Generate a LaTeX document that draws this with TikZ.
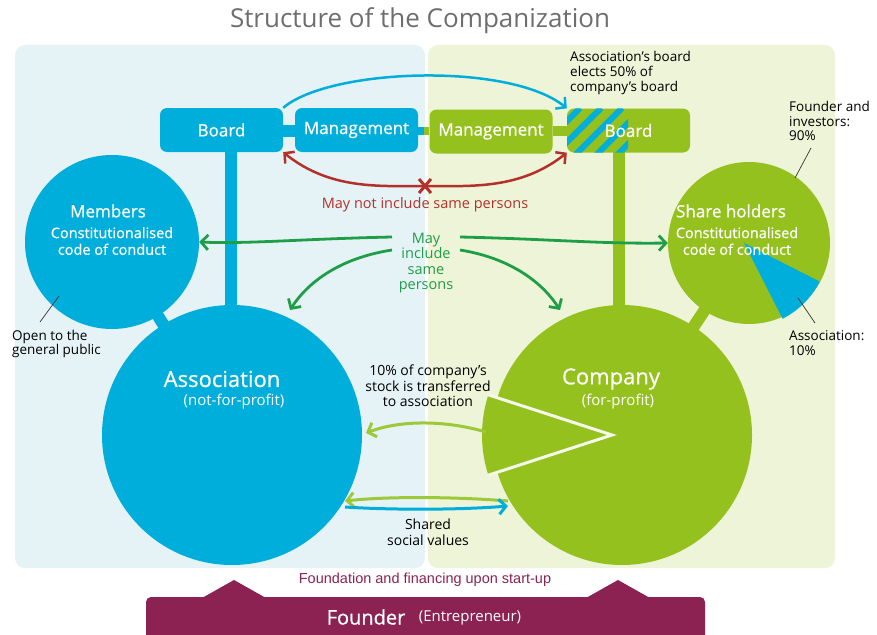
\documentclass[tikz,border=0pt]{standalone}
\usepackage{fontspec}
\setmainfont{Open Sans}
\newfontfamily\wb{Open Sans}[FakeBold=0.7]
\newfontfamily\arialf{Liberation Sans}
\usetikzlibrary{arrows.meta,calc}
\definecolor{cblue}{HTML}{00AEDB}
\definecolor{cgreen}{HTML}{95C11F}
\definecolor{bgblue}{HTML}{E6F3F6}
\definecolor{bggreen}{HTML}{EEF4D8}
\definecolor{cpurple}{HTML}{8B2252}
\definecolor{cred}{HTML}{B3312B}
\definecolor{cdgreen}{HTML}{1E9E47}
\definecolor{ctitle}{HTML}{6E6E6E}
\definecolor{clgreen}{HTML}{9CC83A}
\newcommand{\fs}[1]{\fontsize{#1}{#1}\selectfont}
\tikzset{
  boxnode/.style={rounded corners=7pt, minimum width=123pt, minimum height=44pt, inner sep=0pt, text=white, font=\wb\fs{17}},
  bignode/.style={circle, inner sep=0pt},
  wtext/.style={text=white, align=center, inner sep=0pt},
  annot/.style={text=black, align=left, inner sep=0pt, font=\fs{13.5}\linespread{1.1}\selectfont, anchor=west},
  tip/.style={-{Straight Barb[length=7pt,width=15pt]}},
  tips/.style={{Straight Barb[length=7pt,width=15pt]}-{Straight Barb[length=7pt,width=15pt]}},
  pointer/.style={draw=black!80, line width=0.7pt},
  linkbar/.style={line width=12pt},
}
\begin{document}
\begin{tikzpicture}[x=1pt,y=-1pt]
\useasboundingbox (0,0) rectangle (877,634);
% panels
\fill[bgblue, rounded corners=10pt] (15,45) rectangle (425,568);
\fill[bggreen, rounded corners=10pt] (428,45) rectangle (835,568);
% title
\node[text=ctitle, font=\fs{26}, inner sep=0] (title) at (420,21) {Structure of the Companization};
% coordinates of main circles
\coordinate (cM) at (112,242);
\coordinate (cA) at (232,435);
\coordinate (cC) at (622,435);
\coordinate (cS) at (749,243);
% boxes
\node[boxnode, fill=cblue] (bL) at (221.5,130) {Board};
\node[boxnode, fill=cblue] (mL) at (356.5,130) {Management};
\node[boxnode, fill=cgreen] (mR) at (491,131.5) {Management};
\node[boxnode, fill=cgreen, text opacity=0] (bR) at (628.5,130.5) {Board};
% link bars between boxes
\fill[cblue] (bL.east |- 0,125) rectangle (mL.west |- 0,137);
\fill[cblue] (mL.east |- 0,127) rectangle (424,135);
\fill[cgreen] (424,127) rectangle (mR.west |- 0,135);
\fill[cgreen] (mR.east |- 0,126) rectangle (bR.west |- 0,136);
% stems
\fill[cblue] (225,150) rectangle (237,330);
\fill[cgreen] (613,150) rectangle (625,330);
% circle connectors
\draw[cblue, linkbar] (cM) -- (cA);
\draw[cgreen, linkbar] (cS) -- (cC);
% circles
\node[bignode, fill=cblue, minimum size=174pt] (mem) at (cM) {};
\node[bignode, fill=cblue, minimum size=260pt] (asso) at (cA) {};
\node[bignode, fill=cgreen, minimum size=260pt] (comp) at (cC) {};
\node[bignode, fill=cgreen, minimum size=162pt] (share) at (cS) {};
% shareholder pie slice
\fill[cblue] ($(cS)+(-5,0)$) -- ++(27:85) arc[start angle=27, end angle=63, radius=85] -- cycle;
% company wedge
\coordinate (wT) at ($(cC)+(-10,0)$);
\fill[cgreen] (wT) -- ++(162:130) arc[start angle=162, end angle=198, radius=130] -- cycle;
\draw[white!90!cgreen, line width=3pt, line join=miter] ($(wT)+(162:130)$) -- (wT) -- ($(wT)+(198:130)$);
% stripes on company board
\begin{scope}
\clip[rounded corners=7pt] (bR.south west) rectangle (bR.north east);
\clip (567,100) rectangle (628,160);
\foreach \i in {-60,-39,...,80} {
  \draw[cblue, line width=6pt] (567+\i,160) -- ++(52,-52);
}
\end{scope}
\node[wtext, font=\wb\fs{17}] (bRt) at (bR) {Board};
% circle texts
\node[wtext, font=\wb\fs{17}] (memT) at (108,211) {Members};
\node[wtext, font=\wb\fs{14.5}\linespread{1.15}\selectfont] (memC) at (112,241) {Constitutionalised\\code of conduct};
\node[wtext, font=\wb\fs{17}] (shT) at (731,211) {Share holders};
\node[wtext, font=\wb\fs{14.5}\linespread{1.15}\selectfont] (shC) at (737,241) {Constitutionalised\\code of conduct};
\node[wtext, font=\wb\fs{22}] (asT) at (222,379) {Association};
\node[wtext, font=\fs{15}] (asS) at (234,402) {(not-for-profit)};
\node[wtext, font=\wb\fs{22}] (coT) at (611,379) {Company};
\node[wtext, font=\fs{15}] (coS) at (618,402) {(for-profit)};
% annotations
\node[annot] (open) at (12,344) {Open to the\\general public};
\draw[pointer] (40,322) -- (59,296);
\node[annot] (fi) at (789,121) {Founder and\\investors:\\90\%};
\draw[pointer] (811,148) -- (795,178);
\node[annot] (as10) at (789,343) {Association:\\10\%};
\draw[pointer] (815,323) -- (798,298);
\node[annot] (elect) at (570,73) {Association’s board\\elects 50\% of\\company’s board};
% blue arc board -> board
\draw[cblue, line width=2.5pt, tip] (bL.north east) .. controls (330,68) and (510,62) .. (bR.north west);
% red double arrow
\coordinate (xm) at (425,186);
\draw[cred, line width=2.5pt, tips] (bL.south east) .. controls (330,190) and (380,186) .. (xm) .. controls (470,186) and (520,190) .. (bR.south west);
\draw[cred, line width=3pt] ($(xm)+(-6,-7)$) -- ($(xm)+(6,7)$) ($(xm)+(6,-7)$) -- ($(xm)+(-6,7)$);
\node[text=cred, font=\fs{14.5}, inner sep=0] (notsame) at (425,205) {May not include same persons};
% green may include
\node[text=cdgreen, font=\fs{14.5}\linespread{1.07}\selectfont, align=center, inner sep=0] (same) at (426,263) {May\\include\\same\\persons};
\coordinate (g1) at (392,237);
\coordinate (g2) at (392,250);
\coordinate (g3) at (460,237);
\coordinate (g4) at (460,250);
\draw[cdgreen, line width=2.8pt, tip] (g1) .. controls (300,239) and (250,244) .. (mem.east);
\draw[cdgreen, line width=2.8pt, tip] (g2) .. controls (340,258) and (308,282) .. (290,310);
\draw[cdgreen, line width=2.8pt, tip] (g3) .. controls (550,239) and (600,244) .. (share.west);
\draw[cdgreen, line width=2.8pt, tip] (g4) .. controls (510,258) and (542,282) .. (560,310);
% stock transfer
\node[font=\fs{14}\linespread{1.12}\selectfont, align=center, inner sep=0] (stock) at (428,386) {10\% of company’s\\stock is transferred\\to association};
\coordinate (st1) at (486,432);
\coordinate (st2) at (366,433);
\draw[clgreen, line width=3pt, tip] (st1) .. controls (445,420) and (400,420) .. (st2);
% shared social values
\coordinate (sv1) at (508,501);
\coordinate (sv2) at (345,501);
\draw[clgreen, line width=3pt, tip] (sv1) .. controls (460,497) and (390,496) .. (sv2);
\coordinate (sb1) at (345,507);
\coordinate (sb2) at (508,506);
\draw[cblue, line width=3pt, tip] (sb1) .. controls (390,510) and (460,510) .. (sb2);
\node[font=\fs{14}\linespread{1.12}\selectfont, align=center, inner sep=0] (shared) at (428,532) {Shared\\social values};
% founder
\node[text=cpurple, font=\arialf\fs{14.5}, inner sep=0] (found) at (425,580) {Foundation and financing upon start-up};
\fill[cpurple] (202,598) -- (234,580) -- (266,598) -- cycle;
\fill[cpurple] (586,598) -- (618,580) -- (650,598) -- cycle;
\fill[cpurple, rounded corners=5pt] (146,597) rectangle (705,645);
\node[text=white, font=\wb\fs{20}, inner sep=0] (fd) at (366,617) {Founder};
\node[text=white, font=\fs{15}, inner sep=0] (ent) at (470,618) {(Entrepreneur)};
\end{tikzpicture}
\end{document}
